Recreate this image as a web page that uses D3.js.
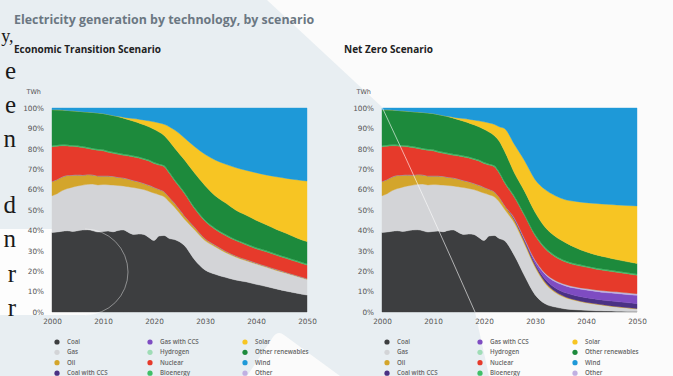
<!DOCTYPE html>
<html>
<head>
<meta charset="utf-8">
<script src="https://cdn.jsdelivr.net/npm/d3@7"></script>
<style>
  body { margin: 0; background: #fbfbfb; }
  svg { display: block; }
</style>
</head>
<body>
<svg id="chart" width="673" height="376"></svg>
<script>
// ---- Years: annual history, then two-year steps for the projections ----
const histYears = [2000,2001,2002,2003,2004,2005,2006,2007,2008,2009,2010,2011,2012,2013,2014,2015,2016,2017,2018,2019,2020,2021,2022,2023];
const futureYears = [2024,2026,2028,2030,2032,2034,2036,2038,2040,2042,2044,2046,2048,2050];

// ---- Historical share of generation (%) ----
const histCoal     = [39.0,39.2,39.6,39.8,39.5,39.8,40.2,40.3,39.8,39.2,39.5,39.7,39.3,40.0,40.2,39.0,38.0,38.2,38.0,36.5,35.0,37.2,37.5,36.0];
const histGas      = [18.0,18.8,19.9,20.7,21.7,22.0,22.0,22.3,22.9,23.1,23.0,22.7,22.9,22.0,21.6,22.4,23.0,22.4,22.0,22.7,23.3,20.3,19.0,18.0];
const histOil      = [7.0,7.0,6.8,6.5,6.0,5.5,5.0,4.8,4.6,4.5,4.3,4.4,4.3,4.1,4.0,3.8,3.5,3.3,3.1,3.0,2.8,2.7,2.5,2.3];
const histNuclear  = [17.0,16.3,15.2,14.4,14.0,13.7,13.4,12.8,12.4,12.5,12.2,11.5,11.3,11.2,11.0,11.3,11.5,11.6,11.7,11.8,11.7,11.8,12.2,11.7];
const histBio      = [0.6,0.6,0.6,0.6,0.6,0.6,0.6,0.6,0.6,0.6,0.6,0.6,0.6,0.6,0.6,0.6,0.6,0.6,0.6,0.6,0.6,0.6,0.6,0.6];
const histOtherRen = [17.6,17.2,16.9,16.8,16.8,16.8,17.0,17.2,17.5,17.7,17.7,17.9,17.9,17.8,17.6,17.2,16.9,16.6,16.4,16.2,16.2,15.6,14.7,15.1];
const histSolar    = [0,0,0,0,0,0,0,0,0,0,0,0,0,0.2,0.5,0.8,1.3,1.8,2.3,2.9,3.6,4.5,5.5,7.1];
const histWind     = [0.8,0.9,1.0,1.2,1.4,1.6,1.8,2.0,2.2,2.4,2.7,3.2,3.7,4.1,4.5,4.9,5.2,5.5,5.9,6.3,6.8,7.3,8.0,9.2];

// ---- Economic Transition Scenario projections (%) ----
const etCoal     = [35.5,32.5,25.5,20.6,18.5,17.0,15.7,14.8,13.6,12.5,11.3,10.2,9.2,8.3];
const etGas      = [16.0,13.0,14.7,14.4,13.5,12.2,11.3,10.4,10.0,9.5,9.1,8.8,8.3,7.7];
const etOil      = [2.0,1.6,1.3,1.0,0.8,0.7,0.6,0.6,0.5,0.5,0.5,0.4,0.4,0.4];
const etNuclear  = [11.0,10.9,9.0,8.5,7.7,7.6,7.4,7.2,6.9,7.0,6.9,6.8,6.7,6.6];
const etBio      = [0.6,0.6,0.6,0.6,0.6,0.6,0.6,0.6,0.6,0.6,0.6,0.6,0.6,0.6];
const etOtherRen = [15.4,15.9,16.9,16.9,15.9,15.4,14.4,13.9,13.4,12.7,12.1,11.7,11.1,10.9];
const etSolar    = [8.8,10.8,13.0,15.3,17.5,19.0,20.8,22.0,23.3,24.4,25.8,27.0,28.5,29.7];
const etWind     = [10.7,14.7,19.0,22.7,25.5,27.5,29.2,30.5,31.7,32.8,33.7,34.5,35.2,35.8];

// ---- Net Zero Scenario projections (%) ----
const nzCoal     = [35.0,27.5,17.5,8.5,4.0,2.4,1.5,1.1,0.8,0.6,0.5,0.4,0.3,0.2];
const nzGas      = [15.5,16.0,15.5,13.5,10.0,7.1,5.5,4.5,3.7,3.2,2.6,2.1,1.7,1.3];
const nzOil      = [2.0,1.5,1.2,0.9,0.7,0.5,0.4,0.3,0.3,0.2,0.2,0.2,0.2,0.2];
const nzCoalCCS  = [0,0.3,0.5,0.9,1.4,1.8,2.0,2.1,2.2,2.3,2.3,2.4,2.4,2.4];
const nzGasCCS   = [0,0.5,0.8,1.4,2.3,3.0,3.4,3.6,3.8,3.8,3.9,4.0,4.0,4.1];
const nzOther    = [0,0.2,0.3,0.4,0.6,0.7,0.7,0.7,0.7,0.7,0.8,0.8,0.8,0.8];
const nzNuclear  = [11.0,10.0,11.2,11.9,12.0,11.5,11.0,10.7,10.5,10.2,9.9,9.6,9.4,9.0];
const nzBio      = [0.6,0.6,0.6,0.6,0.6,0.6,0.6,0.6,0.6,0.6,0.6,0.6,0.6,0.6];
const nzOtherRen = [14.9,11.4,11.4,10.9,9.9,9.4,8.9,7.9,6.9,6.4,6.0,5.6,5.3,5.2];
const nzSolar    = [11.0,14.0,15.0,16.0,18.5,20.0,21.0,22.7,24.1,25.2,26.0,26.8,27.5,28.2];
const nzWind     = [10.0,18.0,26.0,35.0,40.0,43.0,45.0,45.8,46.4,46.8,47.2,47.5,47.8,48.0];

// ---- Technologies: legend order (column by column) and colours ----
const techNames  = ["Coal","Gas","Oil","Coal with CCS","Gas with CCS","Hydrogen","Nuclear","Bioenergy","Solar","Other renewables","Wind","Other"];
const techColors = ["#3d3e40","#d3d4d7","#d3a52b","#4a3184","#7e4cc2","#9fdcb6","#e63a2b","#3fbf68","#f7c523","#1d8a3c","#1e99d8","#c0b0e2"];
// Stacking order, bottom to top
const stackOrder = ["Coal","Gas","Oil","Coal with CCS","Gas with CCS","Other","Hydrogen","Nuclear","Bioenergy","Other renewables","Solar","Wind"];

const xTicks = [2000,2010,2020,2030,2040,2050];
const yTicks = [0,0.1,0.2,0.3,0.4,0.5,0.6,0.7,0.8,0.9,1];

const colorOf = d3.scaleOrdinal().domain(techNames).range(techColors);

function buildRows(hist, future) {
  const years = histYears.concat(futureYears);
  return years.map((year, i) => {
    const row = { year };
    stackOrder.forEach(k => {
      const h = hist[k] || [], f = future[k] || [];
      const v = i < histYears.length ? h[i] : f[i - histYears.length];
      row[k] = v || 0;
    });
    return row;
  });
}

const history = {
  "Coal": histCoal, "Gas": histGas, "Oil": histOil, "Nuclear": histNuclear,
  "Bioenergy": histBio, "Other renewables": histOtherRen, "Solar": histSolar, "Wind": histWind
};
const etRows = buildRows(history, {
  "Coal": etCoal, "Gas": etGas, "Oil": etOil, "Nuclear": etNuclear,
  "Bioenergy": etBio, "Other renewables": etOtherRen, "Solar": etSolar, "Wind": etWind
});
const nzRows = buildRows(history, {
  "Coal": nzCoal, "Gas": nzGas, "Oil": nzOil, "Coal with CCS": nzCoalCCS, "Gas with CCS": nzGasCCS,
  "Other": nzOther, "Nuclear": nzNuclear, "Bioenergy": nzBio, "Other renewables": nzOtherRen,
  "Solar": nzSolar, "Wind": nzWind
});

const svg = d3.select("#chart");
const W = 673, H = 376;
const TICK_FONT = "'DejaVu Sans', sans-serif";
const UI_FONT = "'Open Sans', sans-serif";

// ---- Page background with the pale blue panel ----
svg.append("rect").attr("width", W).attr("height", H).attr("fill", "#fbfbfb");
svg.append("path")
  .attr("d", "M0,0 L267,0 L382,107 Q428,205 475,312 L489,376 L0,376 Z")
  .attr("fill", "#e8eef2");
svg.append("path")
  .attr("d", "M247,376 L273,337 Q278,330 284,335 L340,376 Z")
  .attr("fill", "#fbfbfb");
svg.append("path")
  .attr("d", "M0,229 L85,229 A43,43 0 0 1 85,315 L0,315 Z")
  .attr("fill", "#fdfdfd");

// Column of body text from the facing page
const marginLetters = [
  { t: "y,", x: 13.5, y: 42, size: 18 },
  { t: "e", x: 16, y: 79, size: 25 }, { t: "e", x: 16, y: 113, size: 25 }, { t: "n", x: 16, y: 147, size: 25 },
  { t: "d", x: 16, y: 213, size: 25 }, { t: "n", x: 16, y: 247, size: 25 },
  { t: "r", x: 16, y: 282, size: 25 }, { t: "r", x: 16, y: 316, size: 25 }
];
svg.append("g").selectAll("text").data(marginLetters).join("text")
  .attr("x", d => d.x).attr("y", d => d.y)
  .attr("text-anchor", "end")
  .attr("font-family", "'Liberation Serif', 'DejaVu Serif', serif")
  .attr("font-size", d => d.size)
  .attr("fill", "#1a1a1a")
  .text(d => d.t);

// ---- Titles ----
svg.append("text")
  .attr("x", 14).attr("y", 24)
  .attr("font-family", UI_FONT).attr("font-weight", 700).attr("font-size", 12.4)
  .attr("fill", "#6b7782")
  .text("Electricity generation by technology, by scenario");

function drawPanel(x0, title, rows) {
  const g = svg.append("g");
  const x = d3.scaleLinear().domain([2000, 2050]).range([x0, x0 + 255]);
  const y = d3.scaleLinear().domain([0, 1]).range([312, 108]);

  g.append("text")
    .attr("x", x0 - 38).attr("y", 52.5)
    .attr("font-family", UI_FONT).attr("font-weight", 700).attr("font-size", 10)
    .attr("fill", "#222")
    .text(title);

  g.append("text")
    .attr("x", x0 - 11).attr("y", 94)
    .attr("text-anchor", "end")
    .attr("font-family", TICK_FONT).attr("font-size", 6.5)
    .attr("fill", "#555")
    .text("TWh");

  const series = d3.stack()
    .keys(stackOrder)
    .offset(d3.stackOffsetExpand)(rows);

  const area = d3.area()
    .x(d => x(d.data.year))
    .y0(d => y(d[0]))
    .y1(d => y(d[1]))
    .curve(d3.curveMonotoneX);

  g.append("g").selectAll("path").data(series).join("path")
    .attr("d", area)
    .attr("fill", d => colorOf(d.key))
    .attr("stroke", d => colorOf(d.key))
    .attr("stroke-width", 0.4);

  const yAxis = g.append("g")
    .attr("transform", `translate(${x0},0)`)
    .call(d3.axisLeft(y).tickValues(yTicks).tickFormat(d3.format(".0%")).tickSize(0).tickPadding(8));
  yAxis.select(".domain").remove();
  yAxis.selectAll("text").attr("font-family", TICK_FONT).attr("font-size", 7.3).attr("fill", "#555");

  const xAxis = g.append("g")
    .attr("transform", "translate(0,312)")
    .call(d3.axisBottom(x).tickValues(xTicks).tickFormat(d3.format("d")).tickSize(0).tickPadding(7));
  xAxis.select(".domain").remove();
  xAxis.selectAll("text").attr("font-family", TICK_FONT).attr("font-size", 7.3).attr("fill", "#555");

  // Legend: three columns of four entries
  const legend = g.append("g");
  const colX = [x0 + 5, x0 + 98, x0 + 193];
  const rowY = [342, 352.3, 362.7, 373.2];
  const items = legend.selectAll("g").data(techNames).join("g")
    .attr("transform", (d, i) => `translate(${colX[Math.floor(i / 4)]},${rowY[i % 4]})`);
  items.append("circle").attr("r", 2.6).attr("fill", d => colorOf(d));
  items.append("text")
    .attr("x", 10).attr("dy", "0.35em")
    .attr("font-family", UI_FONT).attr("font-weight", 600).attr("font-size", 6.2)
    .attr("fill", "#666")
    .text(d => d);

  return { x, y };
}

drawPanel(52, "Economic Transition Scenario", etRows);
drawPanel(382, "Net Zero Scenario", nzRows);

// Faint outlines of the page decoration crossing the plots
svg.append("path")
  .attr("d", "M85,229 A43,43 0 0 1 85,315")
  .attr("fill", "none").attr("stroke", "rgba(255,255,255,0.6)").attr("stroke-width", 0.7);
svg.append("path")
  .attr("d", "M382,107 Q428,205 475,312")
  .attr("fill", "none").attr("stroke", "rgba(255,255,255,0.75)").attr("stroke-width", 0.8);
</script>
</body>
</html>
